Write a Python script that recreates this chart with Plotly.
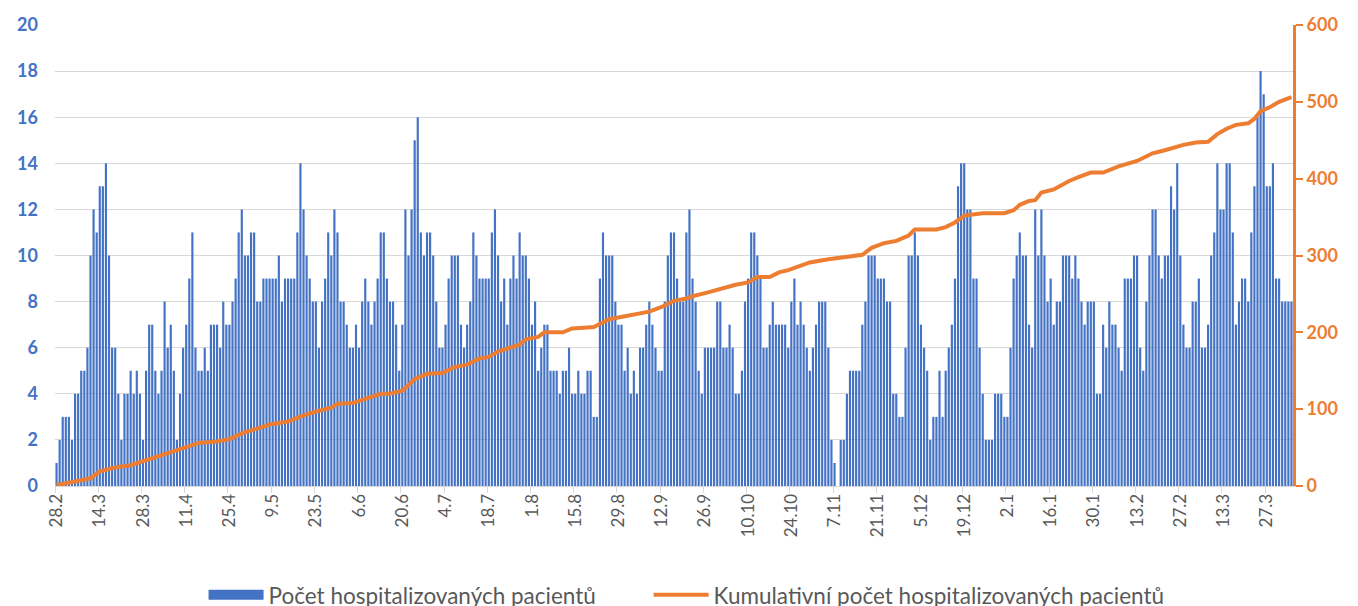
import numpy as np
import pandas as pd
import plotly.graph_objects as go

start_date = "2021-02-28"

# daily hospitalised patients (one value per day from 28.2.2021)
daily_patients = (
    [1,2,3,3,3,2,4,4,5,5,6,10,12,11,13,13,14,10,6,6,4,2,4,4,5,4,5,4,2,5,7,7]
    + [5,4,5,8,6,7,5,2,4,6,7,9,11,6,5,5,6,5,7,7,7,6,8,7,7,8,9,11,12,10,10,11,11,8]
    + [8,9,9,9,9,9,10,8,9,9,9,9,11,14,12,10,9,8,8,6,8,9,11,10,12,11,8,8,7,6,6,7,6,8]
    + [9,8,7,8,9,11,11,9,8,8,7,5,7,12,10,12,15,16,11,10,11,11,10,8,6,6,7,9,10,10,10,7,6]
    + [7,8,11,10,9,9,9,9,11,12,10,8,9,7,9,10,9,11,10,10,9,7,8,5,6,7,7,5,5,5,4,5,5,6]
    + [4,4,5,4,4,5,5,3,3,9,11,10,10,10,8,7,7,5,6,4,5,4,6,6,7,8,7,6,5,5,8,10,11]
    + [11,9,8,8,11,12,9,8,5,4,6,6,6,6,8,8,6,6,7,6,4,4,5,8,9,11,11,10,9,6,6,7,8,7]
    + [7,7,7,6,8,9,7,8,7,6,5,6,7,8,8,8,6,2,1,0,2,2,4,5,5,5,5,7,8,10,10,10,9]
    + [9,9,8,8,4,4,3,3,6,10,10,11,10,7,6,5,2,3,3,5,3,5,6,7,9,13,14,14,12,12,9,9,6,4,2]
    + [2,2,4,4,4,3,3,6,9,10,11,10,10,7,6,12,10,12,10,8,9,7,8,8,10,10,10,9,10,9,8,7,8,8]
    + [8,4,4,7,6,8,7,7,6,5,9,9,9,10,10,6,5,8,10,12,12,10,9,10,10,13,12,14,10,7,6,6,8]
    + [8,9,6,6,7,10,11,14,12,12,14,14,11,7,8,9,9,8,11,13,16,18,17,13,13,14,9,9,8,8,8,8]
)

# cumulative line, read at these day offsets from the start date
cum_day = [0,4,8,11,14,19,24,28,31,36,39,43,46,52,56,61,66,69,75,80,84,89,91,96,99,105,108,112,116,120,
           125,129,133,137,140,143,150,152,156,158,164,167,171,174,179,183,188,192,196,200,204,206,211,216,220,
           224,227,231,234,237,240,244,250,255,261,264,268,272,276,278,285,288,291,294,300,307,310,312,315,317,
           319,323,325,328,331,335,339,344,350,355,359,365,369,373,376,379,382,386,388,390,393,396,400]
cum_value = [1,4,7,10,19,24,27,32,37,42,46,52,56,58,61,70,76,80,84,92,97,102,107,108,112,120,120,124,139,146,
             147,155,158,166,168,175,184,191,194,200,200,205,206,207,217,220,223,227,233,241,244,247,252,258,262,
             265,272,272,278,281,285,291,295,298,301,310,316,319,326,334,334,337,343,352,355,355,359,366,371,372,
             382,386,391,397,402,408,408,416,423,433,437,444,447,448,458,465,470,472,478,488,493,500,506]

bar_name = "Počet hospitalizovaných pacientů"
line_name = "Kumulativní počet hospitalizovaných pacientů"

start = pd.Timestamp(start_date)
dates = start + pd.to_timedelta(np.arange(len(daily_patients)), unit="D")
cum_dates = start + pd.to_timedelta(np.array(cum_day), unit="D")

BLUE = "#4472C4"
ORANGE = "#ED7D31"
GREY = "#595959"
GRID = "#D9D9D9"
FONT = "Lato"
DAY_MS = 86400000

fig = go.Figure()
fig.add_trace(go.Bar(x=dates, y=daily_patients, name=bar_name, showlegend=False,
                     marker=dict(color=BLUE, line=dict(width=0))))
# legend-only entry giving the bar series a wide rectangular swatch
fig.add_trace(go.Scatter(x=[None], y=[None], name=bar_name, mode="lines", legend="legend",
                         line=dict(color=BLUE, width=16), hoverinfo="skip"))
fig.add_trace(go.Scatter(x=cum_dates, y=cum_value, name=line_name, yaxis="y2", legend="legend2",
                         mode="lines", line=dict(color=ORANGE, width=4)))

x0 = start - pd.Timedelta(hours=12)
x1 = dates[-1] + pd.Timedelta(hours=12)

legend_style = dict(orientation="h", xanchor="left", yref="container", y=0.031, yanchor="middle",
                    font=dict(family=FONT, size=22.5, color=GREY), itemwidth=55,
                    bgcolor="rgba(0,0,0,0)")

fig.update_layout(
    width=1358, height=606,
    margin=dict(l=47, r=73, t=17, b=128),
    paper_bgcolor="white", plot_bgcolor="white",
    bargap=0.3,
    font=dict(family=FONT, color=GREY),
    showlegend=True,
    legend=dict(x=0.12, **legend_style),
    legend2=dict(x=0.4795, **legend_style),
    xaxis=dict(
        type="date", range=[x0, x1],
        tick0=start, dtick=14 * DAY_MS, tickformat="%-d.%-m", tickangle=-90,
        ticks="", showgrid=False, showline=True, linecolor=GRID, linewidth=1,
        tickfont=dict(family=FONT, size=17, color=GREY),
        minor=dict(tick0=x0, dtick=14 * DAY_MS, ticks="outside", ticklen=6,
                   tickcolor=GRID, tickwidth=1, showgrid=False),
    ),
    yaxis=dict(
        range=[0, 20], dtick=2, showgrid=True, gridcolor=GRID, gridwidth=1,
        zeroline=False, showline=False, ticks="",
        tickfont=dict(family=FONT, size=18, color=BLUE, weight="bold"),
        ticklabelstandoff=16, automargin=False,
    ),
    yaxis2=dict(
        overlaying="y", side="right", range=[0, 600], dtick=100,
        showgrid=False, zeroline=False, showline=True, linecolor=ORANGE, linewidth=3,
        ticks="outside", ticklen=7, tickwidth=2, tickcolor=ORANGE,
        tickfont=dict(family=FONT, size=18, color=ORANGE, weight="bold"),
        automargin=False,
    ),
)

fig.write_html("out.html")
